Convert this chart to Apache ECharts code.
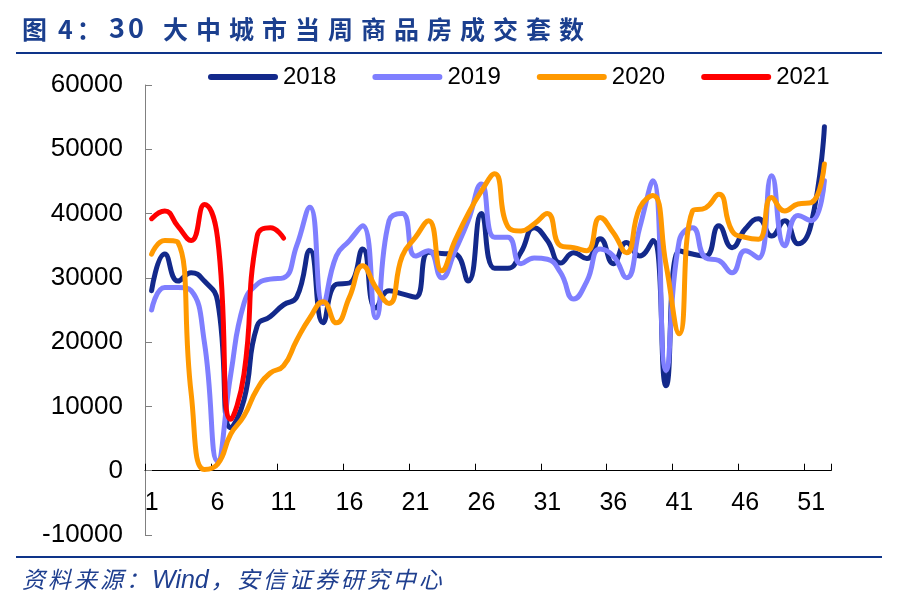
<!DOCTYPE html>
<html><head><meta charset="utf-8">
<script src="https://cdn.jsdelivr.net/npm/echarts@6/dist/echarts.min.js"></script>
<style>
html,body{margin:0;padding:0;width:898px;height:607px;background:#fff;overflow:hidden}
#chart{position:absolute;left:0;top:0;width:898px;height:607px}
.t{position:absolute;top:13px;font-family:'Noto Sans CJK SC';font-weight:bold;font-size:25px;color:#1B3F8E;white-space:nowrap;line-height:30px}
#tline{position:absolute;left:16px;top:52px;width:866px;height:2px;background:#0E3489}
#bline{position:absolute;left:16px;top:556px;width:866px;height:2px;background:#0E3489}
#src{position:absolute;left:22px;top:563px;font-family:'Noto Sans CJK SC';font-style:italic;font-size:23px;letter-spacing:3px;color:#1F3F8F;line-height:30px;white-space:nowrap}
#src .w{font-family:'Liberation Sans',Arial,sans-serif;font-size:25px;letter-spacing:0;margin-right:2px}
</style></head>
<body>
<div id="chart"></div>
<div id="title">
<span class="t" style="left:22px">图</span><span class="t" style="left:58px;letter-spacing:4px">4：</span><span class="t" style="left:109px;letter-spacing:3px;font-size:27px;top:12px">30</span><span class="t" style="left:163px;letter-spacing:8px">大中城市当周商品房成交套数</span>
</div>
<div id="tline"></div>
<div id="bline"></div>
<div id="src">资料来源：<span class="w">Wind</span>，安信证券研究中心</div>
<script>
const weeks = Array.from({length: 52}, (_, i) => String(i + 1));
const seriesNames = ['2018', '2019', '2020', '2021'];
const y2018 = [28000,33700,29500,30800,29500,26400,6700,11000,22500,24000,25800,27000,34300,23000,29000,29200,34500,25300,28000,27500,27000,34000,33800,33700,29500,40000,31500,31500,34000,37800,35800,32300,33900,33000,36100,32200,35500,33400,35800,13200,34200,33700,33400,38100,34700,37600,39200,36500,38900,35300,38400,53500];
const y2019 = [25000,28500,28500,28000,20000,1500,15000,26000,29000,29800,30000,35000,41000,26000,33400,35800,38100,23800,38900,40000,33400,34200,30000,34200,38900,44600,36300,36300,32200,33100,32900,30800,26700,29500,34500,33400,30000,37800,45100,15600,35800,37800,33100,32700,30800,34200,33100,45900,35000,39700,38900,45100];
const y2020 = [33700,35800,35500,12000,200,1000,5700,8500,12700,15200,16300,20300,23800,26300,23000,27000,31900,28500,26000,33400,36300,38900,31100,35800,40000,43500,46200,38000,37300,38400,40000,35000,34700,34200,39400,37000,33900,40900,42800,32000,21300,40400,40900,43000,37300,36300,36000,42500,40400,41500,41700,47700];
const y2021 = [39200,40400,38000,35800,41400,36200,8000,15000,36500,37800,36200];
const colors = ['#13298B', '#7F7FFF', '#FF9900', '#FF0000'];
const yMin = -10000, yMax = 60000, yStep = 10000;

const gridTop = 85, gridBottom = 72, chartH = 607;
const plotH = chartH - gridTop - gridBottom;
// x axis sits at value 0: move it up from the grid bottom
const zeroOffset = -plotH * (0 - yMin) / (yMax - yMin);

const chart = echarts.init(document.getElementById('chart'), null, {renderer: 'canvas'});
const font = "'Liberation Sans', Arial, sans-serif";
const capsule = 'path://M3,0H67A3,3,0,0,1,67,6H3A3,3,0,0,1,3,0Z';
const dataSets = [y2018, y2019, y2020, y2021];
chart.setOption({
  animation: false,
  color: colors,
  legend: {
    data: seriesNames.map(n => ({name: n, icon: capsule})),
    left: 203, top: 60,
    itemWidth: 70, itemHeight: 6, itemGap: 36,
    textStyle: {fontSize: 24, color: '#000', fontFamily: font}
  },
  grid: {left: 145, right: 67, top: gridTop, bottom: gridBottom, containLabel: false},
  xAxis: {
    type: 'category',
    data: weeks,
    boundaryGap: true,
    position: 'bottom',
    offset: zeroOffset,
    axisLine: {onZero: false, lineStyle: {color: '#000', width: 1}},
    axisTick: {show: true, inside: true, length: 7, interval: 4, lineStyle: {color: '#000'}},
    axisLabel: {interval: 4, margin: 20, fontSize: 25, color: '#000', fontFamily: font},
    splitLine: {show: false}
  },
  yAxis: {
    type: 'value',
    min: yMin, max: yMax, interval: yStep,
    axisLine: {show: true, lineStyle: {color: '#808080', width: 1}},
    axisTick: {show: true, inside: true, length: 7, lineStyle: {color: '#808080'}},
    axisLabel: {margin: 22, fontSize: 26, color: '#000', fontFamily: font, formatter: v => String(v)},
    splitLine: {show: false}
  },
  series: seriesNames.map((n, i) => ({
    name: n,
    type: 'line',
    data: dataSets[i],
    smooth: 0.5,
    symbol: 'none',
    lineStyle: {width: 5, color: colors[i], cap: 'round', join: 'round'},
    itemStyle: {color: colors[i]}
  }))
});
</script>
</body></html>
